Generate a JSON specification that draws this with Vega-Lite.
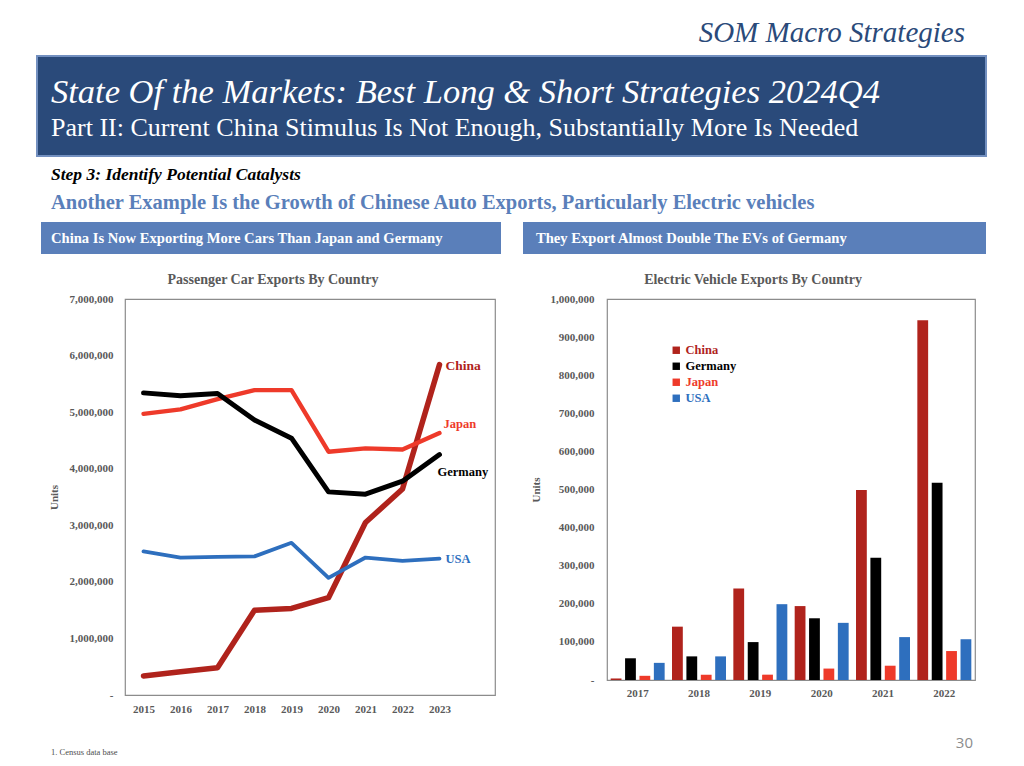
{
  "$schema": "https://vega.github.io/schema/vega-lite/v6.json",
  "background": "white",
  "padding": {"left": 36, "top": 19, "right": 39, "bottom": 4},
  "config": {
    "font": "Liberation Serif",
    "view": {"stroke": null},
    "title": {"fontWeight": "normal"}
  },
  "title": {
    "text": "SOM Macro Strategies",
    "anchor": "end",
    "dx": -22,
    "offset": 7,
    "fontSize": 29,
    "fontStyle": "italic",
    "fontWeight": "normal",
    "color": "#2A4A7A"
  },
  "datasets": {
    "blank": [{"k": 1}],
    "cars": [
      {"country": "China", "year": 2015, "value": 335000},
      {"country": "China", "year": 2016, "value": 410000},
      {"country": "China", "year": 2017, "value": 480000},
      {"country": "China", "year": 2018, "value": 1500000},
      {"country": "China", "year": 2019, "value": 1530000},
      {"country": "China", "year": 2020, "value": 1720000},
      {"country": "China", "year": 2021, "value": 3050000},
      {"country": "China", "year": 2022, "value": 3640000},
      {"country": "China", "year": 2023, "value": 5840000},
      {"country": "Japan", "year": 2015, "value": 4970000},
      {"country": "Japan", "year": 2016, "value": 5050000},
      {"country": "Japan", "year": 2017, "value": 5230000},
      {"country": "Japan", "year": 2018, "value": 5390000},
      {"country": "Japan", "year": 2019, "value": 5390000},
      {"country": "Japan", "year": 2020, "value": 4300000},
      {"country": "Japan", "year": 2021, "value": 4360000},
      {"country": "Japan", "year": 2022, "value": 4340000},
      {"country": "Japan", "year": 2023, "value": 4630000},
      {"country": "Germany", "year": 2015, "value": 5340000},
      {"country": "Germany", "year": 2016, "value": 5290000},
      {"country": "Germany", "year": 2017, "value": 5330000},
      {"country": "Germany", "year": 2018, "value": 4860000},
      {"country": "Germany", "year": 2019, "value": 4540000},
      {"country": "Germany", "year": 2020, "value": 3590000},
      {"country": "Germany", "year": 2021, "value": 3550000},
      {"country": "Germany", "year": 2022, "value": 3780000},
      {"country": "Germany", "year": 2023, "value": 4250000},
      {"country": "USA", "year": 2015, "value": 2540000},
      {"country": "USA", "year": 2016, "value": 2430000},
      {"country": "USA", "year": 2017, "value": 2440000},
      {"country": "USA", "year": 2018, "value": 2450000},
      {"country": "USA", "year": 2019, "value": 2690000},
      {"country": "USA", "year": 2020, "value": 2070000},
      {"country": "USA", "year": 2021, "value": 2430000},
      {"country": "USA", "year": 2022, "value": 2370000},
      {"country": "USA", "year": 2023, "value": 2410000}
    ],
    "ev": [
      {"year": "2017", "country": "China", "value": 4000},
      {"year": "2017", "country": "Germany", "value": 57000},
      {"year": "2017", "country": "Japan", "value": 11000},
      {"year": "2017", "country": "USA", "value": 45000},
      {"year": "2018", "country": "China", "value": 140000},
      {"year": "2018", "country": "Germany", "value": 62000},
      {"year": "2018", "country": "Japan", "value": 14000},
      {"year": "2018", "country": "USA", "value": 62000},
      {"year": "2019", "country": "China", "value": 240000},
      {"year": "2019", "country": "Germany", "value": 99500},
      {"year": "2019", "country": "Japan", "value": 14000},
      {"year": "2019", "country": "USA", "value": 199000},
      {"year": "2020", "country": "China", "value": 194000},
      {"year": "2020", "country": "Germany", "value": 162000},
      {"year": "2020", "country": "Japan", "value": 30000},
      {"year": "2020", "country": "USA", "value": 150000},
      {"year": "2021", "country": "China", "value": 499000},
      {"year": "2021", "country": "Germany", "value": 321000},
      {"year": "2021", "country": "Japan", "value": 37500},
      {"year": "2021", "country": "USA", "value": 112600},
      {"year": "2022", "country": "China", "value": 944000},
      {"year": "2022", "country": "Germany", "value": 518000},
      {"year": "2022", "country": "Japan", "value": 76000},
      {"year": "2022", "country": "USA", "value": 107000}
    ]
  },
  "vconcat": [
    {
      "width": 949,
      "height": 100,
      "data": {"name": "blank"},
      "mark": {"type": "text", "text": ""},
      "encoding": {},
      "view": {"fill": "#2A4A7A", "stroke": "#7390C0", "strokeWidth": 2},
      "title": {
        "text": "State Of the Markets: Best Long & Short Strategies 2024Q4",
        "subtitle": "Part II: Current China Stimulus Is Not Enough, Substantially More Is Needed",
        "anchor": "start",
        "offset": -86,
        "dx": 14,
        "fontSize": 34.5,
        "fontStyle": "italic",
        "fontWeight": "normal",
        "color": "white",
        "subtitleFont": "Liberation Serif",
        "subtitleFontSize": 26,
        "subtitleColor": "white",
        "subtitlePadding": 5
      }
    },
    {
      "title": {
        "text": "Step 3: Identify Potential Catalysts",
        "subtitle": "Another Example Is the Growth of Chinese Auto Exports, Particularly Electric vehicles",
        "anchor": "start",
        "dx": 14,
        "offset": 9,
        "fontSize": 17.5,
        "fontStyle": "italic",
        "fontWeight": "bold",
        "color": "black",
        "subtitleFont": "Liberation Serif",
        "subtitleFontSize": 20.5,
        "subtitleFontWeight": "bold",
        "subtitleColor": "#5A7FBA",
        "subtitlePadding": 9
      },
      "spacing": 0,
      "hconcat": [
        {
          "width": 4,
          "height": 32,
          "data": {"name": "blank"},
          "mark": {"type": "text", "text": ""},
          "encoding": {}
        },
        {
          "spacing": 22,
          "hconcat": [
            {
              "width": 460,
              "height": 32,
              "data": {"name": "blank"},
              "mark": {"type": "text", "text": ""},
              "encoding": {},
              "view": {"fill": "#5A7FBA", "stroke": null},
              "title": {
                "text": "China Is Now Exporting More Cars Than Japan and Germany",
                "anchor": "start",
                "offset": -24,
                "dx": 10,
                "fontSize": 14.6,
                "fontWeight": "bold",
                "color": "white"
              }
            },
            {
              "width": 463,
              "height": 32,
              "data": {"name": "blank"},
              "mark": {"type": "text", "text": ""},
              "encoding": {},
              "view": {"fill": "#5A7FBA", "stroke": null},
              "title": {
                "text": "They Export Almost Double The EVs of Germany",
                "anchor": "start",
                "offset": -24,
                "dx": 13,
                "fontSize": 14.6,
                "fontWeight": "bold",
                "color": "white"
              }
            }
          ]
        }
      ]
    },
    {
      "spacing": 0,
      "resolve": {"scale": {"color": "independent"}, "legend": {"color": "independent"}},
      "hconcat": [
        {
          "width": 10,
          "height": 10,
          "data": {"name": "blank"},
          "mark": {"type": "text", "text": ""},
          "encoding": {}
        },
        {
          "spacing": 33,
          "resolve": {"scale": {"color": "independent"}, "legend": {"color": "independent"}},
          "hconcat": [
            {
              "width": 370,
              "height": 396,
              "data": {"name": "cars"},
              "view": {"stroke": "#8C8C8C", "strokeWidth": 1.2},
              "title": {
                "text": ["", "Passenger Car Exports By Country"],
                "lineHeight": 9,
                "anchor": "middle",
                "dx": -37,
                "offset": 6,
                "fontSize": 14,
                "fontWeight": "bold",
                "color": "#595959"
              },
              "encoding": {
                "x": {
                  "field": "year",
                  "type": "quantitative",
                  "scale": {"domain": [2014.5, 2024.5], "nice": false, "zero": false},
                  "axis": {
                    "values": [2015, 2016, 2017, 2018, 2019, 2020, 2021, 2022, 2023],
                    "format": "d",
                    "title": null,
                    "grid": false,
                    "ticks": false,
                    "domain": false,
                    "labelFont": "Liberation Serif",
                    "labelFontWeight": "bold",
                    "labelFontSize": 11,
                    "labelColor": "#595959",
                    "labelPadding": 8
                  }
                },
                "y": {
                  "field": "value",
                  "type": "quantitative",
                  "scale": {"domain": [0, 7000000], "nice": false},
                  "axis": {
                    "values": [0, 1000000, 2000000, 3000000, 4000000, 5000000, 6000000, 7000000],
                    "labelExpr": "datum.value == 0 ? '-' : format(datum.value, ',')",
                    "title": "Units",
                    "titleFont": "Liberation Serif",
                    "titleFontSize": 11,
                    "titleFontWeight": "bold",
                    "titleColor": "#595959",
                    "titlePadding": 10,
                    "grid": false,
                    "ticks": false,
                    "domain": false,
                    "labelFont": "Liberation Serif",
                    "labelFontWeight": "bold",
                    "labelFontSize": 11,
                    "labelColor": "#595959",
                    "labelPadding": 12
                  }
                }
              },
              "layer": [
                {
                  "mark": {"type": "line", "strokeJoin": "round", "strokeCap": "round"},
                  "encoding": {
                    "color": {
                      "field": "country",
                      "type": "nominal",
                      "scale": {"domain": ["China", "Germany", "Japan", "USA"], "range": ["#B0231C", "#000000", "#EE3A2A", "#2E6FBE"]},
                      "legend": null
                    },
                    "strokeWidth": {
                      "field": "country",
                      "type": "nominal",
                      "scale": {"domain": ["China", "Germany", "Japan", "USA"], "range": [5.5, 3.8, 3.2, 3.2]},
                      "legend": null
                    },
                    "order": {"field": "year", "type": "quantitative"}
                  }
                },
                {
                  "transform": [{"filter": "datum.year == 2023 && datum.country == 'China'"}],
                  "mark": {"type": "text", "align": "left", "baseline": "middle", "dx": 6, "dy": 1, "fontWeight": "bold", "fontSize": 13.5, "color": "#B0231C"},
                  "encoding": {"text": {"field": "country"}}
                },
                {
                  "transform": [{"filter": "datum.year == 2023 && datum.country == 'Japan'"}],
                  "mark": {"type": "text", "align": "left", "baseline": "middle", "dx": 4, "dy": -9, "fontWeight": "bold", "fontSize": 12.5, "color": "#EE3A2A"},
                  "encoding": {"text": {"field": "country"}}
                },
                {
                  "transform": [{"filter": "datum.year == 2023 && datum.country == 'Germany'"}],
                  "mark": {"type": "text", "align": "left", "baseline": "middle", "dx": -2, "dy": 17, "fontWeight": "bold", "fontSize": 12.5, "color": "#000000"},
                  "encoding": {"text": {"field": "country"}}
                },
                {
                  "transform": [{"filter": "datum.year == 2023 && datum.country == 'USA'"}],
                  "mark": {"type": "text", "align": "left", "baseline": "middle", "dx": 6, "dy": 0, "fontWeight": "bold", "fontSize": 12.5, "color": "#2E6FBE"},
                  "encoding": {"text": {"field": "country"}}
                }
              ]
            },
            {
              "width": 368,
              "height": 381,
              "data": {"name": "ev"},
              "view": {"stroke": "#8C8C8C", "strokeWidth": 1.2},
              "title": {
                "text": ["", "Electric Vehicle Exports By Country"],
                "lineHeight": 9,
                "anchor": "middle",
                "dx": -38,
                "offset": 6,
                "fontSize": 14,
                "fontWeight": "bold",
                "color": "#595959"
              },
              "mark": {"type": "bar"},
              "encoding": {
                "x": {
                  "field": "year",
                  "type": "nominal",
                  "scale": {"paddingInner": 0.12, "paddingOuter": 0.06},
                  "axis": {
                    "title": null,
                    "labelAngle": 0,
                    "grid": false,
                    "ticks": false,
                    "domain": false,
                    "labelFont": "Liberation Serif",
                    "labelFontWeight": "bold",
                    "labelFontSize": 11,
                    "labelColor": "#595959",
                    "labelPadding": 7
                  }
                },
                "xOffset": {
                  "field": "country",
                  "type": "nominal",
                  "scale": {"domain": ["China", "Germany", "Japan", "USA"], "paddingInner": 0.25, "paddingOuter": 0}
                },
                "y": {
                  "field": "value",
                  "type": "quantitative",
                  "scale": {"domain": [0, 1000000], "nice": false},
                  "axis": {
                    "values": [0, 100000, 200000, 300000, 400000, 500000, 600000, 700000, 800000, 900000, 1000000],
                    "labelExpr": "datum.value == 0 ? '-' : format(datum.value, ',')",
                    "title": "Units",
                    "titleFont": "Liberation Serif",
                    "titleFontSize": 11,
                    "titleFontWeight": "bold",
                    "titleColor": "#595959",
                    "titlePadding": 9,
                    "grid": false,
                    "ticks": false,
                    "domain": false,
                    "labelFont": "Liberation Serif",
                    "labelFontWeight": "bold",
                    "labelFontSize": 11,
                    "labelColor": "#595959",
                    "labelPadding": 13
                  }
                },
                "color": {
                  "field": "country",
                  "type": "nominal",
                  "scale": {"domain": ["China", "Germany", "Japan", "USA"], "range": ["#B0231C", "#000000", "#EE3A2A", "#2E6FBE"]},
                  "legend": {
                    "orient": "none",
                    "legendX": 63,
                    "legendY": 45,
                    "title": null,
                    "symbolType": "square",
                    "symbolSize": 55,
                    "symbolStrokeWidth": 0,
                    "labelFont": "Liberation Serif",
                    "labelFontWeight": "bold",
                    "labelFontSize": 12.5,
                    "labelOffset": 3,
                    "rowPadding": 3,
                    "labelColor": {"expr": "datum.value == 'China' ? '#B0231C' : datum.value == 'Japan' ? '#EE3A2A' : datum.value == 'USA' ? '#2E6FBE' : '#000000'"}
                  }
                }
              }
            }
          ]
        }
      ]
    },
    {
      "spacing": 0,
      "hconcat": [
        {
          "width": 460,
          "height": 10,
          "data": {"name": "blank"},
          "mark": {"type": "text", "text": ""},
          "encoding": {},
          "title": {
            "text": "1. Census data base",
            "orient": "bottom",
            "anchor": "start",
            "dx": 14,
            "offset": 13,
            "fontSize": 8.5,
            "fontWeight": "normal",
            "color": "#4D4D4D"
          }
        },
        {
          "width": 489,
          "height": 10,
          "data": {"name": "blank"},
          "mark": {"type": "text", "text": ""},
          "encoding": {},
          "title": {
            "text": "30",
            "anchor": "end",
            "dx": -13,
            "offset": -27,
            "font": "Open Sans",
            "fontSize": 15,
            "fontWeight": "normal",
            "color": "#8C8C8C"
          }
        }
      ]
    }
  ],
  "spacing": 9
}
